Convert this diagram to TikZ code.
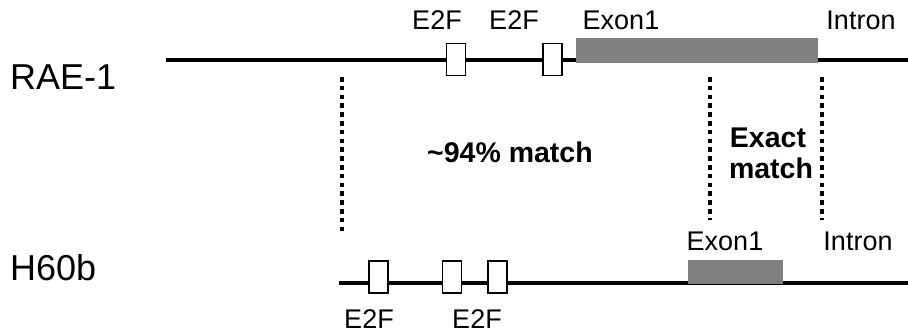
\documentclass[tikz,border=0pt]{standalone}
\usepackage{fontspec}
\setmainfont{Liberation Sans}
\begin{document}
\begin{tikzpicture}[x=1pt,y=-1pt,
  gene/.style={line width=3.6pt},
  site/.style={draw=black,fill=white,line width=1.3pt,minimum width=19pt,minimum height=32pt,inner sep=0pt},
  exon/.style={fill=black!50,draw=none,inner sep=0pt},
  lbl/.style={font=\fontsize{27}{32}\selectfont,inner sep=0pt,anchor=base},
  big/.style={font=\fontsize{36}{42}\selectfont,inner sep=0pt,anchor=base west},
  bold/.style={font=\fontsize{28.5}{31}\selectfont\bfseries,inner sep=0pt,anchor=base},
  dots/.style={line width=3.5pt,dash pattern=on 4.5pt off 4.3pt}]
\path[use as bounding box,fill=white] (0,0) rectangle (908,335);
% titles
\node[big] (rae) at (10,89) {RAE-1};
\node[big] (h60) at (10,280) {H60b};
% top gene
\coordinate (ts) at (166,60);
\coordinate (te) at (908,60);
\draw[gene] (ts) -- (te);
\node[exon,minimum width=242pt,minimum height=25pt] (tex) at (697,50.5) {};
\node[site] (tb1) at (456,59.5) {};
\node[site] (tb2) at (552.5,59.5) {};
\node[lbl] (tl1) at (437,29) {E2F};
\node[lbl] (tl2) at (514,29) {E2F};
\node[lbl] (tl3) at (621,29) {Exon1};
\node[lbl] (tl4) at (861,29) {Intron};
% bottom gene
\coordinate (bs) at (339,283);
\coordinate (be) at (908,283);
\draw[gene] (bs) -- (be);
\node[exon,minimum width=95pt,minimum height=24pt] (bex) at (735.5,272) {};
\node[site] (bb1) at (378.5,277) {};
\node[site] (bb2) at (452,277) {};
\node[site] (bb3) at (497.5,277) {};
\node[lbl] (bl1) at (725,250) {Exon1};
\node[lbl] (bl2) at (858,250) {Intron};
\node[lbl] (bl3) at (369,328) {E2F};
\node[lbl] (bl4) at (477,328) {E2F};
% dotted
\coordinate (d1a) at (342,77); \coordinate (d1b) at (342,233);
\coordinate (d2a) at (710,77); \coordinate (d2b) at (710,220);
\coordinate (d3a) at (822,77); \coordinate (d3b) at (822,220);
\draw[dots] (d1a) -- (d1b);
\draw[dots] (d2a) -- (d2b);
\draw[dots] (d3a) -- (d3b);
% match texts
\node[bold] (m1) at (510,162) {\char`~94\% match};
\node[bold] (m2) at (768,147) {Exact};
\node[bold] (m3) at (771,178) {match};
\end{tikzpicture}
\end{document}
